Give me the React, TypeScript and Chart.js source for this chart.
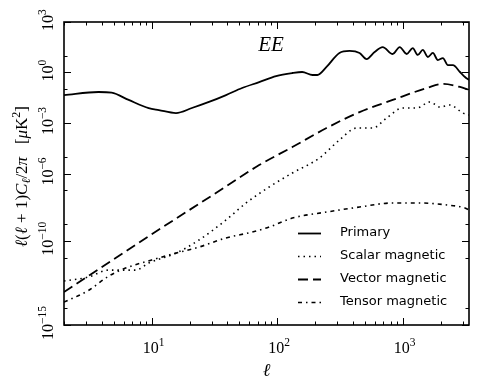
import React, { useEffect, useRef } from "react";
import { Chart, registerables } from "chart.js";

Chart.register(...registerables);

// ---- data ----
const primaryEll = [2, 3.77, 4.79, 6.55, 9.46, 11.4, 15.6, 20.9, 28.6, 39.1, 52.5, 71.8, 98, 132, 158, 191, 209, 247, 313, 377, 453, 515, 597, 692, 832, 946, 1076, 1202, 1318, 1445, 1585, 1738, 1905, 2089, 2291, 2512, 2858, 3133, 3373];
const primaryEE = [0.0457, 0.0692, 0.0631, 0.0234, 0.00776, 0.00589, 0.00389, 0.00776, 0.0178, 0.0457, 0.12, 0.269, 0.617, 0.933, 1.07, 0.708, 0.708, 2.14, 14.5, 19.1, 14.5, 6.31, 16.6, 32.4, 12.6, 32.4, 12.6, 28.2, 11.0, 21.9, 8.32, 14.5, 5.5, 7.24, 2.75, 2.75, 1.07, 0.537, 0.355];

const scalarEll = [2, 3.13, 4.53, 7.45, 9.46, 15.6, 23.8, 39.1, 56.5, 86.3, 132, 217, 313, 429, 575, 745, 1000, 1294, 1644, 1977, 2377, 3020, 3373];
const scalarEE = [4.07e-13, 7.08e-13, 1.82e-12, 1.82e-12, 4.79e-12, 1.86e-11, 1.12e-10, 1.74e-9, 1.78e-8, 1.58e-7, 1.07e-6, 8.32e-6, 9.77e-5, 5.01e-4, 5.01e-4, 2.0e-3, 7.76e-3, 7.76e-3, 1.78e-2, 8.91e-3, 1.17e-2, 3.89e-3, 2.95e-3];

const vectorEll = [2, 10, 39.1, 71.8, 132, 247, 453, 832, 1556, 2089, 2858, 3373];
const vectorEE = [9.12e-14, 2.45e-10, 1.7e-7, 3.16e-6, 3.72e-5, 5.01e-4, 4.47e-3, 2.34e-2, 0.12, 0.209, 0.138, 0.0912];

const tensorEll = [2, 3.13, 4.53, 6.19, 10, 15.6, 23.8, 39.1, 63.1, 86.3, 132, 247, 453, 832, 1368, 2249, 3133, 3373];
const tensorEE = [2.29e-14, 1.12e-13, 7.94e-13, 2.4e-12, 7.24e-12, 1.86e-11, 4.27e-11, 1.48e-10, 3.31e-10, 6.61e-10, 2.24e-9, 5.13e-9, 1.02e-8, 1.78e-8, 1.78e-8, 1.35e-8, 8.91e-9, 6.76e-9];

const seriesLabels = ["Primary", "Scalar magnetic", "Vector magnetic", "Tensor magnetic"];

const xMin = 2;
const xMax = 3373;
const yMin = 1e-15;
const yMax = 1e3;

const xMajorTicks = [10, 100, 1000];
const xMajorExp = ["1", "2", "3"];
const yMajorTicks = [1e3, 1, 1e-3, 1e-6, 1e-10, 1e-15];
const yMajorExp = ["3", "0", "\u22123", "\u22126", "\u221210", "\u221215"];
const yMinorTicks = [1e1, 1e-1, 1e-5, 1e-7, 1e-9, 1e-11, 1e-14];

// ---- styling ----
const SERIF = '"Liberation Serif", "DejaVu Serif", serif';
const SANS = '"DejaVu Sans", sans-serif';

type Run = { t: string; font: string; dy?: number };

function drawRuns(ctx: CanvasRenderingContext2D, runs: Run[], x: number, y: number, align: "center" | "left") {
  let w = 0;
  for (const r of runs) {
    ctx.font = r.font;
    w += ctx.measureText(r.t).width;
  }
  let cx = align === "center" ? x - w / 2 : x;
  ctx.textAlign = "left";
  ctx.textBaseline = "alphabetic";
  for (const r of runs) {
    ctx.font = r.font;
    ctx.fillText(r.t, cx, y + (r.dy || 0));
    cx += ctx.measureText(r.t).width;
  }
}

function xy(xs: number[], ys: number[]) {
  return xs.map((x, i) => ({ x, y: ys[i] }));
}

const decorPlugin = {
  id: "decor",
  afterDatasetsDraw(chart: any) {
    const ctx: CanvasRenderingContext2D = chart.ctx;
    const { left, right, top, bottom } = chart.chartArea;
    const xs = chart.scales.x;
    const ys = chart.scales.y;
    ctx.save();
    ctx.strokeStyle = "#000";
    ctx.fillStyle = "#000";

    // frame
    ctx.lineWidth = 1.6;
    ctx.strokeRect(left, top, right - left, bottom - top);

    // x ticks
    ctx.lineWidth = 1;
    const tick = (x1: number, y1: number, x2: number, y2: number) => {
      ctx.beginPath();
      ctx.moveTo(x1, y1);
      ctx.lineTo(x2, y2);
      ctx.stroke();
    };
    for (let k = 0; k <= 3; k++) {
      for (let m = 1; m <= 9; m++) {
        const v = m * Math.pow(10, k);
        if (v < xMin || v > xMax) continue;
        const px = Math.round(xs.getPixelForValue(v)) + 0.5;
        const len = m === 1 ? 7 : 3.5;
        tick(px, bottom, px, bottom - len);
        tick(px, top, px, top + len);
      }
    }
    // y ticks
    for (const v of yMajorTicks) {
      const py = Math.round(ys.getPixelForValue(v)) + 0.5;
      tick(left, py, left + 7, py);
      tick(right, py, right - 7, py);
    }
    for (const v of yMinorTicks) {
      const py = Math.round(ys.getPixelForValue(v)) + 0.5;
      tick(left, py, left + 3.5, py);
      tick(right, py, right - 3.5, py);
    }

    // x tick labels
    const big = `16px ${SERIF}`;
    const small = `11.5px ${SERIF}`;
    xMajorTicks.forEach((v, i) => {
      const px = xs.getPixelForValue(v);
      drawRuns(ctx, [{ t: "10", font: big }, { t: xMajorExp[i], font: small, dy: -7 }], px + 2, bottom + 28, "center");
    });
    // y tick labels (rotated)
    yMajorTicks.forEach((v, i) => {
      const py = ys.getPixelForValue(v);
      ctx.save();
      ctx.translate(left - 11, py);
      ctx.rotate(-Math.PI / 2);
      drawRuns(ctx, [{ t: "10", font: big }, { t: yMajorExp[i], font: small, dy: -7 }], 2, 0, "center");
      ctx.restore();
    });

    // axis titles
    const it = `italic 18px ${SERIF}`;
    drawRuns(ctx, [{ t: "\u2113", font: it }], (left + right) / 2, bottom + 51, "center");

    const rm17 = `17px ${SERIF}`;
    const it17 = `italic 17px ${SERIF}`;
    const it12 = `italic 12px ${SERIF}`;
    const rm12 = `12px ${SERIF}`;
    ctx.save();
    ctx.translate(27, (top + bottom) / 2 + 3);
    ctx.rotate(-Math.PI / 2);
    drawRuns(
      ctx,
      [
        { t: "\u2113", font: it17 },
        { t: "(", font: rm17 },
        { t: "\u2113", font: it17 },
        { t: " + 1)", font: rm17 },
        { t: "C", font: it17 },
        { t: "\u2113", font: it12, dy: 3 },
        { t: "/2", font: rm17 },
        { t: "\u03c0", font: it17 },
        { t: "   [", font: rm17 },
        { t: "\u03bc", font: it17 },
        { t: "K", font: rm17 },
        { t: "2", font: rm12, dy: -7 },
        { t: "]", font: rm17 },
      ],
      0,
      0,
      "center"
    );
    ctx.restore();

    // panel label
    drawRuns(ctx, [{ t: "EE", font: `italic 21px ${SERIF}` }], 271, 51, "center");

    // legend
    const rowsY = [233, 256, 279, 302];
    chart.data.datasets.forEach((ds: any, i: number) => {
      const y = rowsY[i] + 0.5;
      ctx.save();
      ctx.strokeStyle = ds.borderColor;
      ctx.lineWidth = ds.borderWidth;
      ctx.setLineDash(ds.borderDash || []);
      ctx.beginPath();
      ctx.moveTo(298, y);
      ctx.lineTo(321, y);
      ctx.stroke();
      ctx.restore();
      ctx.font = `13px ${SANS}`;
      ctx.textAlign = "left";
      ctx.textBaseline = "middle";
      ctx.fillText(ds.label, 340, rowsY[i]);
    });

    ctx.restore();
  },
};

export default function App() {
  const ref = useRef<HTMLCanvasElement>(null);
  useEffect(() => {
    const canvas = ref.current;
    if (!canvas) return;
    const chart = new Chart(canvas, {
      type: "line",
      data: {
        datasets: [
          {
            label: seriesLabels[0],
            data: xy(primaryEll, primaryEE),
            borderColor: "#000",
            borderWidth: 1.8,
            borderDash: [],
            pointRadius: 0,
            cubicInterpolationMode: "monotone",
            fill: false,
          },
          {
            label: seriesLabels[1],
            data: xy(scalarEll, scalarEE),
            borderColor: "#000",
            borderWidth: 1.6,
            borderDash: [1.5, 4],
            pointRadius: 0,
            cubicInterpolationMode: "monotone",
            fill: false,
          },
          {
            label: seriesLabels[2],
            data: xy(vectorEll, vectorEE),
            borderColor: "#000",
            borderWidth: 1.8,
            borderDash: [10, 5],
            pointRadius: 0,
            cubicInterpolationMode: "monotone",
            fill: false,
          },
          {
            label: seriesLabels[3],
            data: xy(tensorEll, tensorEE),
            borderColor: "#000",
            borderWidth: 1.6,
            borderDash: [4, 4, 1.5, 4],
            pointRadius: 0,
            cubicInterpolationMode: "monotone",
            fill: false,
          },
        ],
      },
      options: {
        responsive: false,
        animation: false,
        devicePixelRatio: 1,
        layout: { padding: { left: 64, top: 22, right: 10, bottom: 63 } },
        plugins: { legend: { display: false }, title: { display: false }, tooltip: { enabled: false } },
        events: [],
        scales: {
          x: { type: "logarithmic", min: xMin, max: xMax, display: false },
          y: { type: "logarithmic", min: yMin, max: yMax, display: false },
        },
      },
      plugins: [decorPlugin],
    } as any);
    return () => chart.destroy();
  }, []);
  return (
    <div style={{ position: "absolute", left: 0, top: 0, width: 479, height: 388, background: "#fff" }}>
      <canvas ref={ref} width={479} height={388} style={{ display: "block" }} />
    </div>
  );
}
